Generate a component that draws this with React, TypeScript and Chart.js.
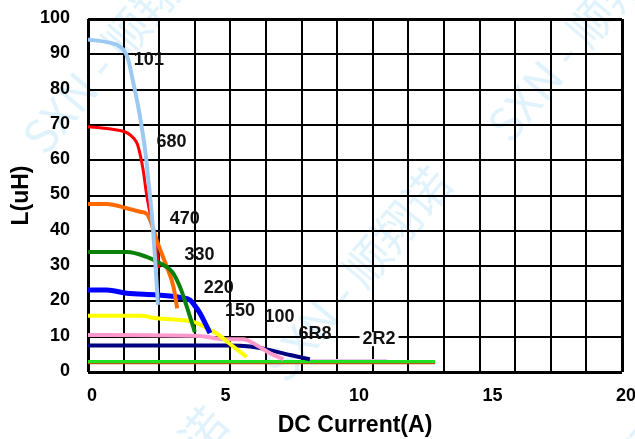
import React, { useEffect, useRef } from 'react';
import { Chart, registerables } from 'chart.js';
Chart.register(...registerables);

// ---- data ----
const x101 = [0, 0.8, 1.2, 1.4, 1.51, 1.7, 1.88, 2.05, 2.17, 2.26, 2.36, 2.45, 2.53, 2.62];
const y101 = [94.2, 93.3, 92.2, 90.5, 88.4, 81.8, 75.2, 67.6, 61, 54.4, 47, 39, 30, 19];

const x680 = [0, 0.7, 1.2, 1.5, 1.7, 1.85, 1.97, 2.07, 2.2, 2.35, 2.5, 2.6, 2.66];
const y680 = [69.5, 69, 68.4, 67.6, 66.3, 64.5, 61, 57, 50, 44, 38, 33, 29.5];

const x470 = [0, 0.7, 1.45, 1.95, 2.2, 2.38, 2.57, 2.95, 3.2, 3.34];
const y470 = [47.6, 47.6, 46.4, 45.4, 44.8, 42, 37.4, 29.8, 24.2, 18];

const x330 = [0, 1.46, 2.2, 2.7, 3.15, 3.45, 3.7, 3.85, 4.0];
const y330 = [34, 34, 32.6, 30.8, 28.4, 24, 18.5, 15, 11.3];

const x220 = [0, 0.7, 1.46, 2.58, 3.45, 3.82, 4.0, 4.2, 4.57];
const y220 = [23.2, 23.2, 22.3, 21.8, 21.1, 20.4, 18.8, 16.6, 11];

const x150 = [0, 1.95, 2.58, 3.95, 4.45, 4.82, 5.44, 5.94];
const y150 = [15.9, 15.9, 15.2, 14.2, 12.4, 10.9, 7.2, 4.3];

const x100 = [0, 4.19, 5.07, 5.82, 6.32, 6.82, 7.32];
const y100 = [10.5, 10.2, 9.3, 9.3, 7.6, 5.3, 3.6];

const x6R8 = [0, 5.32, 6.07, 6.69, 7.57, 8.31];
const y6R8 = [7.5, 7.5, 7.2, 6.4, 4.8, 3.6];

const x2R2 = [0, 13.0];
const y2R2 = [3.0, 3.0];

const xBase = [0, 13.0];
const yBase = [2.4, 2.4];

const xTrace = [8.3, 11.2];
const yTrace = [3.5, 3.5];

const xTicks = [0, 5, 10, 15, 20];
const yTicks = [0, 10, 20, 30, 40, 50, 60, 70, 80, 90, 100];
const xGridCount = 15; // vertical grid columns across 0..20

const labelTexts = ['101', '680', '470', '330', '220', '150', '100', '6R8', '2R2'];
const labelX = [2.28, 3.13, 3.62, 4.18, 4.9, 5.69, 7.17, 8.5, 10.9];
const labelY = [88.4, 65.2, 43.3, 33, 23.8, 17.3, 15.7, 10.8, 9.3];
const labelBoxed = [false, false, false, false, false, false, false, false, true];

const FONT = '"Liberation Sans", Arial, sans-serif';

const zip = (xs: number[], ys: number[]) => xs.map((x, i) => ({ x, y: ys[i] }));

const watermarkText = 'SXN - 顺翔诺';
const watermarkAnchors = [
  [32, 146],
  [273, 374],
  [497, 134],
  [49, 614],
  [514, 602],
];

const watermarkPlugin = {
  id: 'watermark',
  beforeDraw(chart: any) {
    const ctx = chart.ctx;
    ctx.save();
    ctx.fillStyle = '#e0f3fc';
    ctx.font = '46px "Noto Sans CJK SC", "Noto Sans", sans-serif';
    ctx.textAlign = 'left';
    ctx.textBaseline = 'middle';
    for (const [ax, ay] of watermarkAnchors) {
      ctx.save();
      ctx.translate(ax, ay);
      ctx.rotate((-50 * Math.PI) / 180);
      ctx.fillText(watermarkText, 0, 0);
      ctx.restore();
    }
    ctx.restore();
  },
};

const labelsPlugin = {
  id: 'curveLabels',
  afterDatasetsDraw(chart: any) {
    const ctx = chart.ctx;
    const xs = chart.scales.x;
    const ys = chart.scales.y;
    ctx.save();
    ctx.font = `bold 18px ${FONT}`;
    ctx.textAlign = 'center';
    ctx.textBaseline = 'middle';
    labelTexts.forEach((t, i) => {
      const px = xs.getPixelForValue(labelX[i]);
      const py = ys.getPixelForValue(labelY[i]);
      if (labelBoxed[i]) {
        const w = ctx.measureText(t).width;
        ctx.fillStyle = '#ffffff';
        ctx.fillRect(px - w / 2 - 3, py - 7, w + 6, 14);
      }
      ctx.fillStyle = '#111111';
      ctx.fillText(t, px, py);
    });
    ctx.restore();
  },
};

export default function App() {
  const ref = useRef<HTMLCanvasElement | null>(null);

  useEffect(() => {
    if (!ref.current) return;
    const mk = (data: any[], color: string, width: number, order: number) => ({
      data,
      borderColor: color,
      backgroundColor: color,
      borderWidth: width,
      pointRadius: 0,
      cubicInterpolationMode: 'monotone' as const,
      fill: false,
      order,
      xAxisID: 'x',
      yAxisID: 'y',
    });
    const edgeWidth = (c: any, n: number) => (c.index === 0 || c.index === n ? 3 : 2);

    const chart = new Chart(ref.current, {
      type: 'line',
      data: {
        datasets: [
          mk(zip(x101, y101), '#9cc9f2', 4, 0),
          mk(zip(x330, y330), '#0a800a', 4, 1),
          mk(zip(x470, y470), '#ff6a00', 4, 2),
          mk(zip(x680, y680), '#ff0000', 3, 3),
          mk(zip(x220, y220), '#0000ff', 5, 4),
          mk(zip(x150, y150), '#ffff00', 4, 5),
          mk(zip(x100, y100), '#ff99cc', 4, 6),
          mk(zip(x6R8, y6R8), '#000080', 4, 7),
          mk(zip(x2R2, y2R2), '#20e020', 3, 8),
          mk(zip(xBase, yBase), '#b05a10', 1.5, 9),
          mk(zip(xTrace, yTrace), '#e6c8ee', 1.5, 10),
        ],
      },
      options: {
        animation: false,
        responsive: false,
        events: [],
        layout: { padding: { top: 19, right: 13, left: 0, bottom: 0 } },
        plugins: { legend: { display: false }, tooltip: { enabled: false } },
        scales: {
          x: {
            type: 'linear',
            position: 'bottom',
            min: 0,
            max: 20,
            afterBuildTicks: (s: any) => {
              s.ticks = xTicks.map((v) => ({ value: v }));
            },
            ticks: {
              color: '#000',
              font: { family: FONT, size: 18, weight: 'bold' },
              padding: 0,
              labelOffset: 4,
              maxRotation: 0,
              autoSkip: false,
            },
            grid: { display: false, drawTicks: true, tickLength: 13 },
            border: { display: false },
            title: {
              display: true,
              text: 'DC Current(A)',
              color: '#000',
              font: { family: FONT, size: 23, weight: 'bold' },
              padding: { top: 0, bottom: 0 },
            },
            afterFit: (s: any) => {
              s.height = 67;
            },
          },
          xg: {
            type: 'linear',
            position: 'bottom',
            min: 0,
            max: 20,
            afterBuildTicks: (s: any) => {
              const t = [];
              for (let i = 0; i <= xGridCount; i++) t.push({ value: (20 * i) / xGridCount });
              s.ticks = t;
            },
            ticks: { display: false, padding: 0 },
            grid: {
              color: '#000',
              lineWidth: (c: any) => edgeWidth(c, xGridCount),
              drawTicks: false,
            },
            border: { display: false },
            afterFit: (s: any) => {
              s.height = 0;
            },
          },
          y: {
            type: 'linear',
            min: 0,
            max: 100,
            afterBuildTicks: (s: any) => {
              s.ticks = yTicks.map((v) => ({ value: v }));
            },
            ticks: {
              color: '#000',
              font: { family: FONT, size: 18, weight: 'bold' },
              padding: 0,
              labelOffset: -1,
            },
            grid: {
              color: '#000',
              lineWidth: (c: any) => edgeWidth(c, yTicks.length - 1),
              drawTicks: true,
              tickLength: 18,
              tickColor: 'rgba(0,0,0,0)',
            },
            border: { display: false },
            title: {
              display: true,
              text: 'L(uH)',
              color: '#000',
              font: { family: FONT, size: 23, weight: 'bold' },
              padding: { top: 8, bottom: 0 },
            },
            afterFit: (s: any) => {
              s.width = 88;
            },
          },
        },
      },
      plugins: [watermarkPlugin, labelsPlugin],
    } as any);
    return () => chart.destroy();
  }, []);

  return (
    <div style={{ position: 'absolute', left: 0, top: 0, width: 635, height: 439, background: '#fff' }}>
      <canvas ref={ref} width={635} height={439} style={{ display: 'block' }} />
    </div>
  );
}
